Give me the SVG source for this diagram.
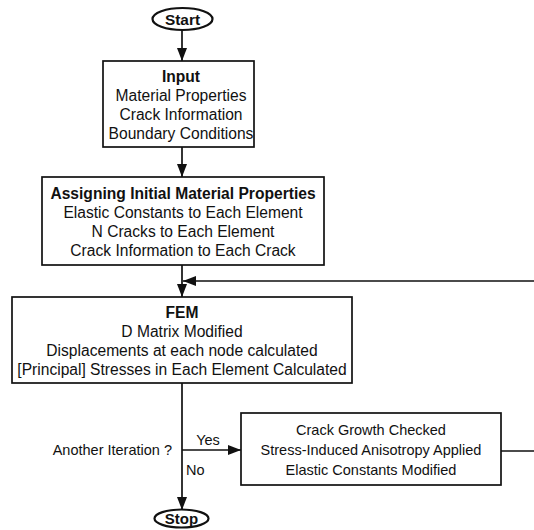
<svg xmlns="http://www.w3.org/2000/svg" width="534" height="530" viewBox="0 0 534 530">
<style>
text{font-family:"Liberation Sans",Arial,sans-serif;fill:#111;}
.t{font-size:15.6px;text-anchor:middle;}
.b{font-weight:bold;}
.s{font-size:14.5px;text-anchor:middle;}
.l{font-size:14.5px;}
.box{fill:#fff;stroke:#111;stroke-width:1.7;}
.term{fill:#fff;stroke:#111;stroke-width:2.2;}
.c{fill:none;stroke:#111;stroke-width:1.7;}
</style>
<defs>
<marker id="ah" viewBox="0 0 13 10" refX="13" refY="5" markerWidth="13" markerHeight="10" markerUnits="userSpaceOnUse" orient="auto">
<path d="M0,0 L13,5 L0,10 z" fill="#111"/>
</marker>
</defs>
<g id="connectors">
<path class="c" d="M182,30 V61" marker-end="url(#ah)"/>
<path class="c" d="M182,147 V177" marker-end="url(#ah)"/>
<path class="c" d="M182,265 V297" marker-end="url(#ah)"/>
<path class="c" d="M501,451 H540 V281 H183" marker-end="url(#ah)"/>
<path class="c" d="M182,383 V510" marker-end="url(#ah)"/>
<path class="c" d="M182,450 H241" marker-end="url(#ah)"/>
</g>
<g id="start">
<ellipse class="term" cx="182.5" cy="19" rx="30" ry="11"/>
<text class="t b" x="182.5" y="24.5" style="font-size:15.4px">Start</text>
</g>
<g id="input">
<rect class="box" x="103" y="61" width="151" height="86"/>
<text class="t b" x="181" y="81.5">Input</text>
<text class="t" x="181" y="100.5">Material Properties</text>
<text class="t" x="181" y="119.5">Crack Information</text>
<text class="t" x="181" y="138.5">Boundary Conditions</text>
</g>
<g id="assign">
<rect class="box" x="42" y="177" width="282" height="88"/>
<text class="t b" x="183" y="198.5">Assigning Initial Material Properties</text>
<text class="t" x="183" y="217.5">Elastic Constants to Each Element</text>
<text class="t" x="183" y="236.5">N Cracks to Each Element</text>
<text class="t" x="183" y="255.5">Crack Information to Each Crack</text>
</g>
<g id="fem">
<rect class="box" x="12" y="297" width="340" height="86"/>
<text class="t b" x="182" y="317.5">FEM</text>
<text class="t" x="182" y="336.5">D Matrix Modified</text>
<text class="t" x="182" y="355.5">Displacements at each node calculated</text>
<text class="t" x="182" y="374.5">[Principal] Stresses in Each Element Calculated</text>
</g>
<g id="decision">
<text class="l" x="172" y="455" text-anchor="end">Another Iteration ?</text>
<text class="s" x="208" y="445">Yes</text>
<text class="l" x="186" y="475">No</text>
</g>
<g id="update">
<rect class="box" x="241" y="413" width="260" height="72"/>
<text class="s" x="371" y="435">Crack Growth Checked</text>
<text class="s" x="371" y="455">Stress-Induced Anisotropy Applied</text>
<text class="s" x="371" y="475">Elastic Constants Modified</text>
</g>
<g id="stop">
<ellipse class="term" cx="181.5" cy="518.5" rx="27" ry="9"/>
<text class="t b" x="181.5" y="524" style="font-size:15px">Stop</text>
</g>
</svg>
